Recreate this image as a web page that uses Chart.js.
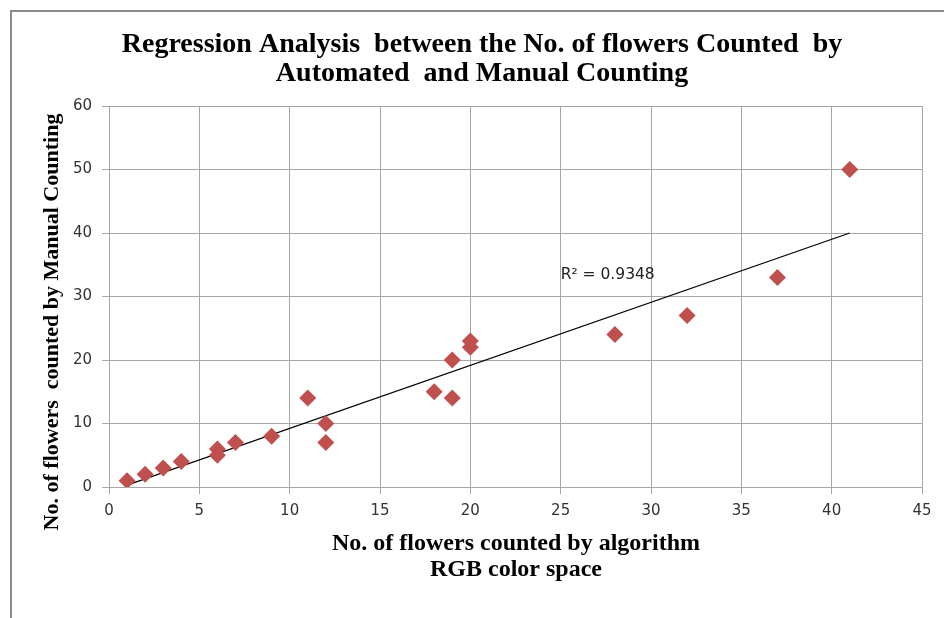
<!DOCTYPE html>
<html>
<head>
<meta charset="utf-8">
<script src="https://cdn.jsdelivr.net/npm/chart.js@4"></script>
<style>
  html, body { margin: 0; padding: 0; background: #fff; }
  canvas { display: block; }
</style>
</head>
<body>
<canvas id="regChart" width="944" height="618"></canvas>
<script>
// values
const algoCounts   = [1, 2, 3, 4, 6, 6, 7, 9, 11, 12, 12, 18, 19, 19, 20, 20, 28, 32, 37, 41];
const manualCounts = [1, 2, 3, 4, 6, 5, 7, 8, 14, 10, 7, 15, 14, 20, 22, 23, 24, 27, 33, 50];
const trendX = [1, 41];
const trendY = [0.3, 40];
const xTicks = [0, 5, 10, 15, 20, 25, 30, 35, 40, 45];
const yTicks = [0, 10, 20, 30, 40, 50, 60];
const titleLines = ["Regression Analysis  between the No. of flowers Counted  by", "Automated  and Manual Counting"];
const xTitleLines = ["No. of flowers counted by algorithm", "RGB color space"];
const yTitle = "No. of flowers  counted by Manual Counting";
const r2Label = "R\u00B2 = 0.9348";

const gridColor = "#a6a6a6";
const serif = "'Liberation Serif', 'Times New Roman', serif";
const sans = "'DejaVu Sans', sans-serif";

const textPlugin = {
    id: "textPlugin",
    beforeDraw(chart) {
        const c = chart.ctx;
        c.save();
        c.fillStyle = "#fff";
        c.fillRect(0, 0, chart.width, chart.height);
        // outer frame (left and top only)
        c.strokeStyle = "#8c8c8c";
        c.lineWidth = 2;
        c.beginPath();
        c.moveTo(11, chart.height);
        c.lineTo(11, 11);
        c.lineTo(chart.width, 11);
        c.stroke();
        c.restore();
    },
    afterDraw(chart) {
        const c = chart.ctx;
        c.save();
        c.fillStyle = "#000";
        c.textAlign = "center";
        c.textBaseline = "alphabetic";
        c.font = "bold 28px " + serif;
        c.fillText(titleLines[0], 482, 52);
        c.fillText(titleLines[1], 482, 81);

        c.font = "bold 24px " + serif;
        c.fillText(xTitleLines[0], 516, 550);
        c.fillText(xTitleLines[1], 516, 576);

        c.save();
        c.font = "bold 22px " + serif;
        c.translate(58, 322);
        c.rotate(-Math.PI / 2);
        c.fillText(yTitle, 0, 0);
        c.restore();

        // R² label placed in data coordinates
        const xs = chart.scales.x, ys = chart.scales.y;
        c.font = "15.5px " + sans;
        c.fillStyle = "#222";
        c.textAlign = "left";
        c.textBaseline = "middle";
        c.fillText(r2Label, xs.getPixelForValue(25), ys.getPixelForValue(33.4));
        c.restore();
    }
};

new Chart(document.getElementById("regChart"), {
    type: "scatter",
    data: {
        datasets: [{
            label: "Counts",
            data: algoCounts.map((x, i) => ({ x: x, y: manualCounts[i] })),
            pointStyle: "rectRot",
            pointRadius: 8.5,
            pointHoverRadius: 8.5,
            backgroundColor: "#C0504D",
            borderColor: "#C0504D",
            borderWidth: 0
        }, {
            label: "Trend",
            data: trendX.map((x, i) => ({ x: x, y: trendY[i] })),
            showLine: true,
            pointRadius: 0,
            borderColor: "#000",
            borderWidth: 1.2,
            fill: false
        }]
    },
    options: {
        responsive: false,
        animation: false,
        events: [],
        layout: { padding: { top: 106, right: 22, left: 0, bottom: 0 } },
        scales: {
            x: {
                type: "linear",
                min: 0,
                max: 45,
                afterBuildTicks: (s) => { s.ticks = xTicks.map(v => ({ value: v })); },
                afterFit: (s) => { s.height = 131; },
                grid: { color: gridColor, tickLength: 7, tickColor: gridColor },
                border: { color: gridColor },
                ticks: { color: "#333", padding: 8, font: { family: sans, size: 15 } }
            },
            y: {
                type: "linear",
                min: 0,
                max: 60,
                afterBuildTicks: (s) => { s.ticks = yTicks.map(v => ({ value: v })); },
                afterFit: (s) => { s.width = 109; },
                grid: { color: gridColor, tickLength: 7, tickColor: gridColor },
                border: { color: gridColor },
                ticks: { color: "#333", padding: 10, font: { family: sans, size: 15 } }
            }
        },
        plugins: {
            legend: { display: false },
            tooltip: { enabled: false },
            title: { display: false }
        }
    },
    plugins: [textPlugin]
});
</script>
</body>
</html>
